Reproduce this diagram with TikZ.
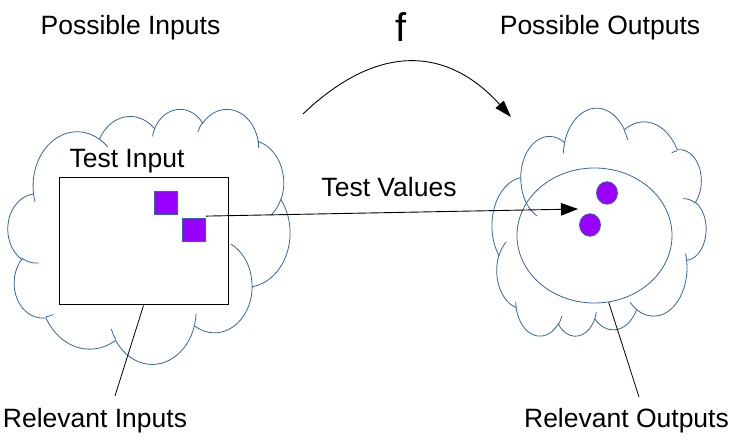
\documentclass[tikz,border=0pt]{standalone}
\usepackage{fontspec}
\setmainfont{Liberation Sans}
\usetikzlibrary{arrows.meta,shapes.geometric,calc}
\definecolor{cloudline}{HTML}{3465A4}
\definecolor{violetfill}{HTML}{9900FF}
% one arc of an OOXML-style cloud: x radius, y radius, start angle, sweep (visual angles)
\newcommand\cloudarc[4]{%
  \pgfmathsetmacro\cldA{atan2((#1)*sin(#3),(#2)*cos(#3))}%
  \pgfmathsetmacro\cldB{atan2((#1)*sin((#3)+(#4)),(#2)*cos((#3)+(#4)))}%
  \pgfmathsetmacro\cldE{\cldA+mod(\cldB-\cldA+720,360)}%
  \pgfpatharcaxes{\cldA}{\cldE}{\pgfpointxy{#1}{0}}{\pgfpointxy{0}{#2}}%
}
\newcommand\cloudshape{%
  \pgfpathmoveto{\pgfpointxy{39.00}{143.70}}%
  \cloudarc{67.53}{91.90}{-190.48748}{123.78053}%
  \cloudarc{53.33}{72.67}{-144.10238}{89.94523}%
  \cloudarc{43.65}{59.45}{-145.80792}{99.72302}%
  \cloudarc{48.57}{65.95}{-130.98607}{117.24173}%
  \cloudarc{53.33}{72.73}{-78.70888}{109.02692}%
  \cloudarc{67.75}{92.20}{-46.26725}{130.269}%
  \cloudarc{57.85}{78.67}{0.62502}{114.03333}%
  \cloudarc{67.52}{92.15}{22.4516}{115.17255}%
  \cloudarc{77.20}{105.43}{66.24263}{75.71102}%
  \cloudarc{43.60}{59.18}{-274.94208}{146.73557}%
  \cloudarc{43.45}{59.45}{-246.8285}{152.51885}%
  \pgfpathclose
  \pgfpathmoveto{\pgfpointxy{46.93}{261.77}}\cloudarc{43.45}{59.45}{86.742}{26.4295}%
  \pgfpathmoveto{\pgfpointxy{69.28}{348.99}}\cloudarc{43.60}{59.18}{73.61047}{11.44747}%
  \pgfpathmoveto{\pgfpointxy{164.78}{390.90}}\cloudarc{67.52}{92.15}{137.62415}{14.0811}%
  \pgfpathmoveto{\pgfpointxy{288.27}{347.51}}\cloudarc{67.52}{92.15}{6.45327}{15.99835}%
  \pgfpathmoveto{\pgfpointxy{341.29}{229.54}}\cloudarc{57.85}{78.67}{-70.29235}{70.91737}%
  \pgfpathmoveto{\pgfpointxy{417.98}{153.54}}\cloudarc{53.33}{72.73}{30.31803}{27.7515}%
  \pgfpathmoveto{\pgfpointxy{383.24}{54.26}}\cloudarc{48.57}{65.95}{-13.74433}{14.8589}%
  \pgfpathmoveto{\pgfpointxy{290.78}{39.52}}\cloudarc{48.57}{65.95}{-149.18145}{18.19537}%
  \pgfpathmoveto{\pgfpointxy{221.41}{47.20}}\cloudarc{43.65}{59.45}{-163.49427}{17.68635}%
  \pgfpathmoveto{\pgfpointxy{140.00}{51.92}}\cloudarc{67.53}{91.90}{-66.70695}{12.31935}%
  \pgfpathmoveto{\pgfpointxy{41.27}{157.89}}\cloudarc{67.53}{91.90}{157.65435}{11.85817}%
}
\begin{document}
\begin{tikzpicture}[x=1pt,y=-1pt,
  lbl/.style={font=\fontsize{26.5}{32}\selectfont, inner sep=0pt, anchor=base},
  bigf/.style={font=\fontsize{40}{46}\selectfont, inner sep=0pt, anchor=base},
  sqbox/.style={draw=cloudline, fill=violetfill, line width=0.8pt, minimum width=23pt, minimum height=23pt, inner sep=0pt},
  dotnode/.style={ellipse, draw=cloudline, fill=violetfill, line width=0.8pt, minimum width=21pt, minimum height=22.5pt, inner sep=0pt},
  conn/.style={draw=black, line width=0.9pt},
  bigtip/.style={-{Triangle[length=17pt,width=12.5pt]}},
  ptr/.style={draw=black, line width=0.8pt}]
\useasboundingbox (0,0) rectangle (756,446);

% clouds
\begin{scope}[shift={(8,108.5)}, x={(0.65278pt,0pt)}, y={(0pt,-0.59028pt)}]
  \pgfsetstrokecolor{cloudline}\pgfsetlinewidth{0.8pt}
  \cloudshape
  \pgfusepath{stroke}
\end{scope}
\begin{scope}[shift={(706,337)}, x={(-0.49537pt,0pt)}, y={(0pt,0.52778pt)}]
  \pgfsetstrokecolor{cloudline}\pgfsetlinewidth{0.8pt}
  \cloudshape
  \pgfusepath{stroke}
\end{scope}

% relevant outputs ellipse
\node[ellipse, draw=cloudline, line width=0.8pt, minimum width=155pt, minimum height=135pt, inner sep=0pt] (relout) at (594.5,235.5) {};

% test input rectangle
\node[draw=black, line width=1pt, minimum width=169pt, minimum height=127pt, inner sep=0pt] (rect) at (143.5,241.5) {};

\node[sqbox] (sq1) at (166,202.5) {};
\node[sqbox] (sq2) at (194,230) {};
\node[dotnode] (dot1) at (607,193) {};
\node[dotnode] (dot2) at (590,225) {};

% coordinates
\coordinate (tv) at (578,209);
\coordinate (fs) at (303,114);
\coordinate (fe) at (511,117);
\coordinate (ri) at (115,396);
\coordinate (ro) at (639,397);

% connectors
\draw[conn,bigtip] ($(sq2.north east)+(0,-2)$) -- (tv);
\draw[conn,-{Triangle[length=17pt,width=11pt]}] (fs) .. controls (376,44) and (446,45) .. (fe);
\draw[ptr] (rect.south) -- (ri);
\draw[ptr] (relout.-78) -- (ro);

% texts
\node[lbl] (pin) at (130.5,35) {Possible Inputs};
\node[bigf] (fn) at (401.5,42) {f};
\node[lbl] (pout) at (600,35) {Possible Outputs};
\node[lbl] (tin) at (127,168) {Test Input};
\node[lbl] (tval) at (389,197) {Test Values};
\node[lbl] (rin) at (95,428) {Relevant Inputs};
\node[lbl] (rout) at (626.5,428) {Relevant Outputs};
\end{tikzpicture}
\end{document}
